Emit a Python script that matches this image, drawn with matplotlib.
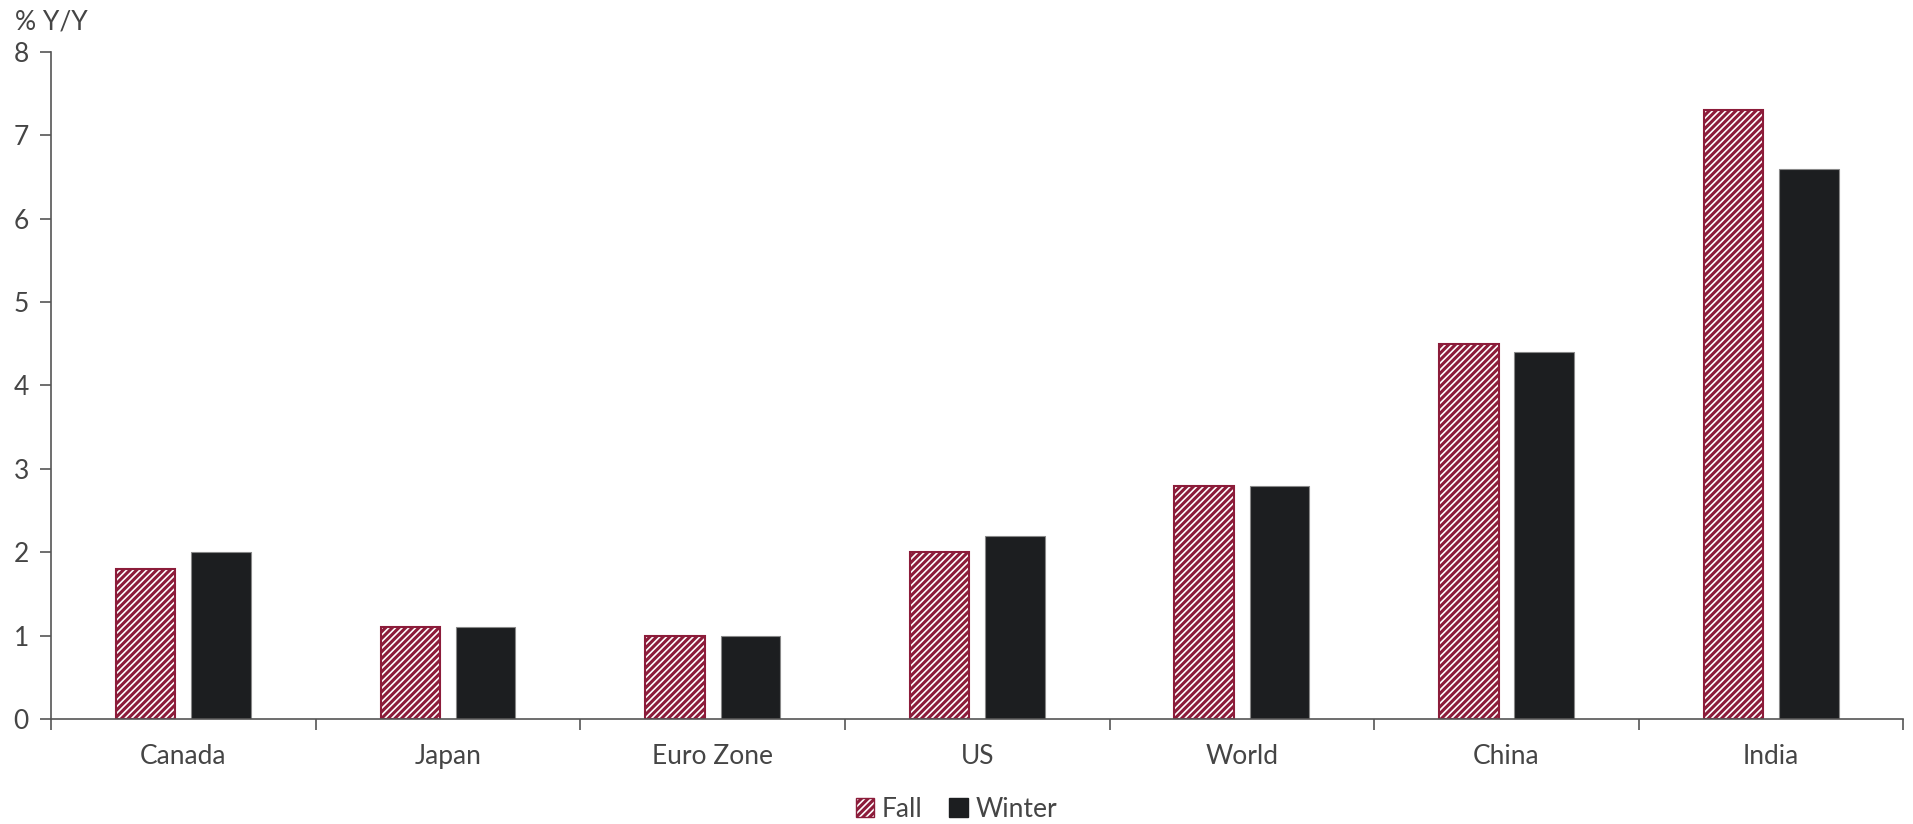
import matplotlib.pyplot as plt
import numpy as np
from matplotlib.patches import Patch

# chart data
categories = ['Canada', 'Japan', 'Euro Zone', 'US', 'World', 'China', 'India']
fall = [1.8, 1.1, 1.0, 2.0, 2.8, 4.5, 7.3]
winter = [2.0, 1.1, 1.0, 2.2, 2.8, 4.4, 6.6]

red = '#8c1c3a'
dark = '#1c1e20'
grey = '#454545'

plt.rcParams['font.family'] = ['Lato', 'DejaVu Sans']
plt.rcParams['hatch.color'] = red
plt.rcParams['hatch.linewidth'] = 2.2

fig = plt.figure(figsize=(19.13, 8.24), dpi=100)
ax = fig.add_axes([0.0267, 0.1274, 0.9683, 0.8096])

x = np.arange(len(categories))
w = 0.225
ax.bar(x - 0.1425, fall, w, color='white', edgecolor=red, hatch='/////', linewidth=1.5)
ax.bar(x + 0.1425, winter, w, color=dark, edgecolor='#888888', linewidth=0.8)

ax.set_xlim(-0.5, len(categories) - 0.5)
ax.set_ylim(0, 8)
ax.set_yticks(range(0, 9))
ax.set_xticks(x)
ax.set_xticklabels(categories)
ax.tick_params(axis='x', length=0, pad=18, labelsize=19, labelcolor=grey)
ax.set_xticks(np.arange(-0.5, len(categories)), minor=True)
ax.tick_params(axis='x', which='minor', length=8, width=1.2, color='#555555', direction='out')
ax.tick_params(axis='y', length=8, width=1.2, color='#555555', labelsize=19, labelcolor=grey, pad=8)

for s in ['top', 'right']:
    ax.spines[s].set_visible(False)
for s in ['left', 'bottom']:
    ax.spines[s].set_color('#555555')
    ax.spines[s].set_linewidth(1.2)

fig.text(0.008, 0.973, '% Y/Y', fontsize=19, color=grey, va='center', ha='left')

handles = [Patch(facecolor='white', edgecolor=red, hatch='/////', label='Fall'),
           Patch(facecolor=dark, edgecolor=dark, label='Winter')]
fig.legend(handles=handles, loc='center', bbox_to_anchor=(0.5, 0.018), ncol=2, frameon=False,
           fontsize=19, labelcolor=grey, handlelength=0.7, handleheight=0.7,
           handletextpad=0.3, columnspacing=1.0)

fig.savefig('out.png', dpi=100)
